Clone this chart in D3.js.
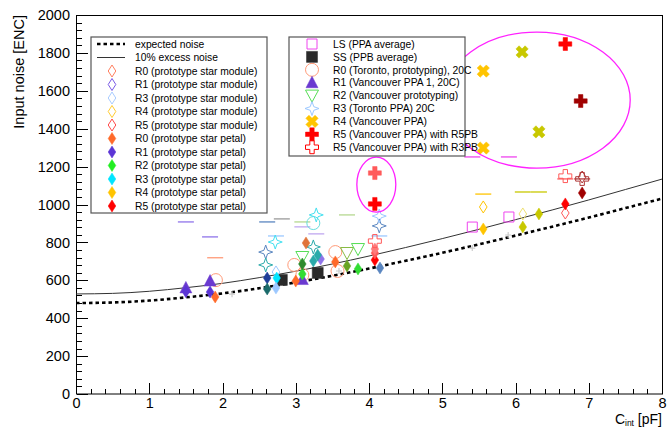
<!DOCTYPE html>
<html><head><meta charset="utf-8">
<script src="https://cdn.jsdelivr.net/npm/d3@7"></script>
<style>
body{margin:0;background:#fff}
svg{font-family:"Liberation Sans",Arial,Helvetica,sans-serif}
</style>
</head><body>
<svg id="c" width="667" height="428"></svg>
<script>
// ---------------- DATA ----------------
const xTickValues = [0,1,2,3,4,5,6,7,8];
const yTickValues = [0,200,400,600,800,1000,1200,1400,1600,1800,2000];

const curveC        = [0,0.5,1,1.5,2,2.5,3,3.5,4,4.5,5,5.5,6,6.5,7,7.5,8];
const expectedNoise = [480,483,493,510,531,558,589,624,662,703,745,790,836,883,931,981,1031];
const excessNoise   = [528,531,542,561,584,614,648,686,728,773,820,869,920,971,1024,1079,1134];

// [C_int (pF), noise (ENC), shade]
const filledDiamonds = [
  [1.90,512,"r0"],[3.00,596,"r0"],[3.54,697,"r0"],[3.14,797,"r0d"],
  [1.50,540,"r1"],[1.83,538,"r1"],[2.61,612,"navy"],[3.34,712,"r1l"],
  [3.09,633,"r2"],[3.09,686,"r2d"],[3.70,676,"r2o"],[3.85,660,"r2"],
  [2.74,612,"r3"],[2.73,559,"r3l"],[2.61,554,"teald"],[3.24,702,"teal"],[3.30,733,"teal"],[4.15,665,"steel"],
  [5.56,871,"r4"],[6.10,881,"olive"],[6.32,950,"olive"],
  [4.08,707,"r5"],[4.08,744,"r5l"],[4.08,765,"r5p"],[6.68,1003,"r5"],[6.91,1061,"r5d"]
];
const openDiamonds = [
  [2.73,644,"r3l"],[5.56,987,"r4"],[6.10,950,"yell"],[6.68,955,"r5l"],[6.91,1145,"r5dd"]
];
const openSquares   = [[5.41,881,"ls"],[5.91,934,"ls"]];
const filledSquares = [[2.81,602,"ss"],[3.30,639,"ss"]];
const openCircles   = [[1.91,601,"r0t"],[2.98,681,"r0t"],[3.09,628,"r0t"],[3.54,749,"r0t"],[3.57,649,"r0t"],[3.24,902,"cyl"]];
const filledTriUp   = [[1.50,560,"r1v"],[1.83,596,"r1v"],[3.09,604,"r1v"]];
const openTriDown   = [[3.09,723,"r2v"],[3.70,744,"r2vo"],[3.85,765,"r2v"]];
const openStars     = [[2.59,749,"steel"],[2.59,681,"teal"],[2.72,802,"cy"],[3.28,945,"cy"],[3.24,776,"teal"],[4.14,887,"steel"],[4.14,939,"r3l"]];
const greyPlus      = [[2.13,527,"grey"],[3.59,649,"grey"],[5.41,770,"grey"],[5.90,839,"grey"]];
const xMarks        = [[5.56,1704,"r4"],[5.56,1298,"r4"],[6.09,1805,"olive"],[6.32,1383,"olive"]];
const filledPlus    = [[6.68,1847,"r5"],[6.89,1546,"r5d"],[4.08,1003,"r5"],[4.08,1166,"r5l"]];
const openPlus      = [[4.08,807,"r5l"],[6.68,1150,"r5l"],[6.91,1135,"r5dd"]];
const dashes        = [
  [1.50,908,"r1l"],[1.83,829,"r1l"],[1.90,719,"r0t"],[2.61,908,"steel"],[2.81,924,"grey2"],
  [3.09,908,"lgreen"],[3.09,882,"lav"],[3.28,845,"lav"],[3.70,945,"lgreen"],[2.73,834,"r3l"],[4.14,834,"r3l"],
  [5.41,1251,"ls"],[5.91,1251,"ls"],[5.56,1055,"r4"],[6.10,1066,"olive"],[6.32,1066,"olive"],[6.68,1135,"r5l"],[6.91,1135,"r5dd"]
];
// ellipse annotations: [centre C, centre noise, half-width pF, half-height ENC]
const ellipses = [[6.29,1551,1.276,359],[4.10,1105,0.266,145]];

const legend1Labels = ["expected noise","10% excess noise",
  "R0 (prototype star module)","R1 (prototype star module)","R3 (prototype star module)","R4 (prototype star module)","R5 (prototype star module)",
  "R0 (prototype star petal)","R1 (prototype star petal)","R2 (prototype star petal)","R3 (prototype star petal)","R4 (prototype star petal)","R5 (prototype star petal)"];
const legend1Keys = ["dash","line","od:r0m","od:r1m","od:r3m","od:r4m","od:r5m","fd:r0","fd:r1","fd:r2g","fd:r3","fd:r4","fd:r5"];
const legend2Labels = ["LS (PPA average)","SS (PPB average)","R0 (Toronto, prototyping), 20C","R1 (Vancouver PPA 1, 20C)",
  "R2 (Vancouver prototyping)","R3 (Toronto PPA) 20C","R4 (Vancouver PPA)","R5 (Vancouver PPA) with R5PB","R5 (Vancouver PPA) with R3PB"];
const legend2Keys = ["osq:ls","fsq:ss","oc:r0t","tu:r1v","td:r2v","st:r3l","x:r4","fp:r5","op:r5"];

// ---------------- STYLE ----------------
const shade = {
  r0:"#ff6a2a", r0d:"#e0743a", r0t:"#ff9a78", r0m:"#ff8060",
  r1:"#5b35d5", r1l:"#8f74ea", r1m:"#7a5ae6", r1v:"#6a3ad0", navy:"#1f3f9a",
  r2:"#33dd33", r2d:"#2e8a2e", r2o:"#6aa524", r2g:"#22ee22", r2v:"#55dd55", r2vo:"#88bb44", lgreen:"#b5d890",
  r3:"#00e5ff", r3l:"#9cc8ff", r3m:"#a9ccff", teal:"#2aaaaa", teald:"#1a6a6a", steel:"#5a86c0", cy:"#44e0f0", cyl:"#66dddd",
  r4:"#ffc400", r4m:"#ffcc33", olive:"#c8c800", yell:"#eee070",
  r5:"#ff0000", r5l:"#ff5a5a", r5p:"#ff7a7a", r5d:"#a00000", r5dd:"#b03838", r5m:"#ff4a4a",
  ls:"#ee44ee", ss:"#2a2a2a", grey:"#cccccc", grey2:"#999999", lav:"#c0a8f0"
};

const x = d3.scaleLinear().domain([0,8]).range([76,662]);
const y = d3.scaleLinear().domain([0,2000]).range([394,15]);
const svg = d3.select("#c");

// marker paths
const P = {
  fd:"M0,-6L3.8,0L0,6L-3.8,0Z",
  od:"M0,-6L3.8,0L0,6L-3.8,0Z",
  osq:"M-5,-5H5V5H-5Z",
  fsq:"M-5.5,-5.5H5.5V5.5H-5.5Z",
  tu:"M0,-6.5L6,5L-6,5Z",
  td:"M0,6.5L6.5,-5.5L-6.5,-5.5Z",
  st:"M0,-7L1.8,-1.8L7,0L1.8,1.8L0,7L-1.8,1.8L-7,0L-1.8,-1.8Z",
  fp:"M-2.2,-6.5H2.2V-2.2H6.5V2.2H2.2V6.5H-2.2V2.2H-6.5V-2.2H-2.2Z",
  op:"M-2.2,-6.5H2.2V-2.2H6.5V2.2H2.2V6.5H-2.2V2.2H-6.5V-2.2H-2.2Z",
  x:"M-2.2,-6.5H2.2V-2.2H6.5V2.2H2.2V6.5H-2.2V2.2H-6.5V-2.2H-2.2Z",
  gp:"M-3,0H3M0,-3V3"
};
function drawMarker(g, kind, col, cx, cy){
  if(kind==="oc"){
    g.append("circle").attr("cx",cx).attr("cy",cy).attr("r",6.5).attr("fill","none").attr("stroke",col).attr("stroke-width",1);
    return;
  }
  const p = g.append("path").attr("d",P[kind]).attr("transform",`translate(${cx},${cy})`+(kind==="x"?" rotate(45)":""));
  const filled = ["fd","fsq","tu","fp","x"].includes(kind);
  if(filled) p.attr("fill",col).attr("stroke",col).attr("stroke-width",0.5);
  else p.attr("fill","none").attr("stroke",col).attr("stroke-width",kind==="gp"?1.2:1);
}

// ---------------- FRAME & AXES ----------------
svg.append("rect").attr("x",76.5).attr("y",15.5).attr("width",586).attr("height",378.5)
  .attr("fill","none").attr("stroke","#000").attr("stroke-width",1);

const minorY = d3.range(0,2001,40);
const minorX = d3.range(0,8.001,0.2);
const ticksG = svg.append("g").attr("stroke","#000").attr("stroke-width",1).attr("shape-rendering","crispEdges");
minorY.forEach(v=>{
  const big = v%200===0;
  ticksG.append("line").attr("x1",76.5).attr("x2",76.5+(big?11:5.5)).attr("y1",Math.round(y(v))+0.5).attr("y2",Math.round(y(v))+0.5);
});
minorX.forEach(v=>{
  const big = Math.abs(v-Math.round(v))<1e-6;
  ticksG.append("line").attr("y1",394).attr("y2",394-(big?11:5.5)).attr("x1",Math.round(x(v))+0.5).attr("x2",Math.round(x(v))+0.5);
});

const gy2 = svg.append("g").attr("transform","translate(76,0)");
gy2.call(d3.axisLeft(y).tickValues(yTickValues).tickSize(0).tickPadding(6).tickFormat(d3.format("d")));
gy2.select(".domain").remove();
gy2.selectAll("line").remove();
gy2.selectAll("text").attr("font-size",14.5).attr("fill","#000").attr("font-family","Liberation Sans, Arial, sans-serif");

const gx2 = svg.append("g").attr("transform","translate(0,394)");
gx2.call(d3.axisBottom(x).tickValues(xTickValues).tickSize(0).tickPadding(4).tickFormat(d3.format("d")));
gx2.select(".domain").remove();
gx2.selectAll("line").remove();
gx2.selectAll("text").attr("font-size",14.5).attr("fill","#000").attr("font-family","Liberation Sans, Arial, sans-serif");

// axis titles
svg.append("text").attr("transform","translate(24,15) rotate(-90)").attr("text-anchor","end")
  .attr("font-size",14.5).text("Input noise [ENC]");
const xt = svg.append("text").attr("x",662).attr("y",424).attr("text-anchor","end").attr("font-size",14);
xt.append("tspan").text("C");
xt.append("tspan").attr("font-size",8.5).attr("dy",1.8).text("int");
xt.append("tspan").attr("dy",-1.8).text(" [pF]");

// ---------------- CURVES ----------------
const lineGen = d3.line().x(d=>x(d[0])).y(d=>y(d[1])).curve(d3.curveMonotoneX);
svg.append("path").datum(curveC.map((c,i)=>[c,excessNoise[i]])).attr("d",lineGen)
  .attr("fill","none").attr("stroke","#333").attr("stroke-width",1);
svg.append("path").datum(curveC.map((c,i)=>[c,expectedNoise[i]])).attr("d",lineGen)
  .attr("fill","none").attr("stroke","#000").attr("stroke-width",2.6).attr("stroke-dasharray","3.5,3");

// ---------------- POINTS ----------------
const gp = svg.append("g");
dashes.forEach(d=>gp.append("line").attr("x1",x(d[0])-8).attr("x2",x(d[0])+8).attr("y1",y(d[1])).attr("y2",y(d[1]))
  .attr("stroke",shade[d[2]]).attr("stroke-width",1.3));
greyPlus.forEach(d=>drawMarker(gp,"gp",shade[d[2]],x(d[0]),y(d[1])));
openCircles.forEach(d=>drawMarker(gp,"oc",shade[d[2]],x(d[0]),y(d[1])));
openStars.forEach(d=>drawMarker(gp,"st",shade[d[2]],x(d[0]),y(d[1])));
openTriDown.forEach(d=>drawMarker(gp,"td",shade[d[2]],x(d[0]),y(d[1])));
filledSquares.forEach(d=>drawMarker(gp,"fsq",shade[d[2]],x(d[0]),y(d[1])));
openSquares.forEach(d=>drawMarker(gp,"osq",shade[d[2]],x(d[0]),y(d[1])));
filledTriUp.forEach(d=>drawMarker(gp,"tu",shade[d[2]],x(d[0]),y(d[1])));
openDiamonds.forEach(d=>drawMarker(gp,"od",shade[d[2]],x(d[0]),y(d[1])));
filledDiamonds.forEach(d=>drawMarker(gp,"fd",shade[d[2]],x(d[0]),y(d[1])));
openPlus.forEach(d=>drawMarker(gp,"op",shade[d[2]],x(d[0]),y(d[1])));
filledPlus.forEach(d=>drawMarker(gp,"fp",shade[d[2]],x(d[0]),y(d[1])));
xMarks.forEach(d=>drawMarker(gp,"x",shade[d[2]],x(d[0]),y(d[1])));

// ellipses
ellipses.forEach(e=>{
  svg.append("ellipse").attr("cx",x(e[0])).attr("cy",y(e[1]))
    .attr("rx",x(e[0]+e[2])-x(e[0])).attr("ry",y(e[1]-e[3])-y(e[1]))
    .attr("fill","none").attr("stroke","#ff22ff").attr("stroke-width",1.3);
});

// ---------------- LEGENDS ----------------
function legend(x0,y0,w,h,labels,keys,mx,tx,ry0,pitch){
  const g = svg.append("g");
  g.append("rect").attr("x",x0).attr("y",y0).attr("width",w).attr("height",h)
    .attr("fill","#fff").attr("stroke","#555").attr("stroke-width",1.2);
  labels.forEach((lab,i)=>{
    const yy = ry0 + i*pitch;
    const k = keys[i];
    if(k==="dash") g.append("line").attr("x1",mx-15).attr("x2",mx+13).attr("y1",yy).attr("y2",yy)
        .attr("stroke","#000").attr("stroke-width",2.6).attr("stroke-dasharray","3.5,3");
    else if(k==="line") g.append("line").attr("x1",mx-15).attr("x2",mx+13).attr("y1",yy).attr("y2",yy)
        .attr("stroke","#333").attr("stroke-width",1);
    else { const [kind,s]=k.split(":"); drawMarker(g,kind,shade[s],mx,yy); }
    g.append("text").attr("x",tx).attr("y",yy+3.7).attr("font-size",10.3).attr("fill","#000").text(lab);
  });
}
legend(91,37,176,176,legend1Labels,legend1Keys,112,135,44,13.5);
legend(289,37,176,119,legend2Labels,legend2Keys,312,333,44,12.9);
</script>
</body></html>
